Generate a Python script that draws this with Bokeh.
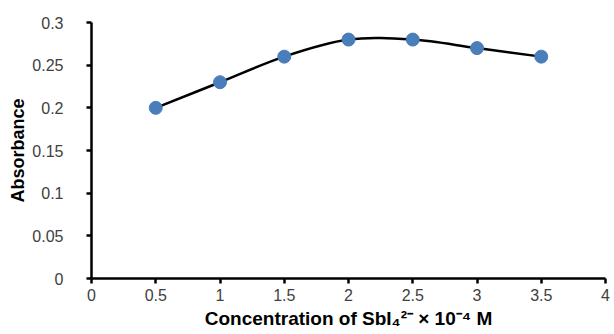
import numpy as np
from bokeh.plotting import figure
from bokeh.models import Range1d, FixedTicker
from bokeh.embed import file_html
from bokeh.resources import INLINE

conc = [0.5, 1.0, 1.5, 2.0, 2.5, 3.0, 3.5]
absorbance = [0.20, 0.23, 0.26, 0.28, 0.28, 0.27, 0.26]
x_ticks = [0, 0.5, 1, 1.5, 2, 2.5, 3, 3.5, 4]
y_ticks = [0, 0.05, 0.1, 0.15, 0.2, 0.25, 0.3]

p = figure(width=614, height=334, output_backend="svg", toolbar_location=None,
           x_range=Range1d(0, 4), y_range=Range1d(0, 0.3),
           min_border_left=91, min_border_right=9, min_border_top=22, min_border_bottom=56)
p.outline_line_color = None
p.grid.visible = False

# Smoothed (Excel-style) line: cubic Bezier segments with Catmull-Rom control points
xs = np.array(conc); ys = np.array(absorbance)
n = len(xs)
x0, y0, x1, y1, cx0, cy0, cx1, cy1 = [], [], [], [], [], [], [], []
for i in range(n - 1):
    pm = max(i - 1, 0); pp = min(i + 2, n - 1)
    x0.append(xs[i]); y0.append(ys[i]); x1.append(xs[i + 1]); y1.append(ys[i + 1])
    cx0.append(xs[i] + (xs[i + 1] - xs[pm]) / 6); cy0.append(ys[i] + (ys[i + 1] - ys[pm]) / 6)
    cx1.append(xs[i + 1] - (xs[pp] - xs[i]) / 6); cy1.append(ys[i + 1] - (ys[pp] - ys[i]) / 6)
p.bezier(x0=x0, y0=y0, x1=x1, y1=y1, cx0=cx0, cy0=cy0, cx1=cx1, cy1=cy1,
         line_color="black", line_width=2.5)

p.scatter(conc, absorbance, size=13, fill_color="#4a7ebb", line_color="#4a7ebb")

for ax in (p.xaxis, p.yaxis):
    ax.axis_line_width = 2.5
    ax.axis_line_color = "black"
    ax.major_tick_line_width = 2.5
    ax.major_tick_line_color = "black"
    ax.major_tick_out = 5
    ax.major_tick_in = 0
    ax.minor_tick_line_color = None
    ax.major_label_text_font = "Liberation Sans"
    ax.major_label_text_font_size = "16px"
    ax.major_label_text_color = "#404040"
    ax.axis_label_text_font = "Liberation Sans"
    ax.axis_label_text_font_style = "bold"
    ax.axis_label_text_font_size = "18px"
    ax.axis_label_text_color = "black"

p.xaxis.axis_label_text_font_size = "19px"
p.xaxis.ticker = FixedTicker(ticks=x_ticks)
p.yaxis.ticker = FixedTicker(ticks=y_ticks)
p.xaxis.major_label_overrides = {0: "0", 1: "1", 2: "2", 3: "3", 4: "4"}
p.yaxis.major_label_overrides = {0: "0"}
p.xaxis.axis_label = "Concentration of SbI\u2084\u00b2\u207b \u00d7 10\u207b\u2074 M"
p.yaxis.axis_label = "Absorbance"
p.xaxis.major_label_standoff = 5
p.yaxis.major_label_standoff = 23
p.xaxis.axis_label_standoff = 4
p.yaxis.axis_label_standoff = 1

open("out.html", "w").write(file_html(p, INLINE))
